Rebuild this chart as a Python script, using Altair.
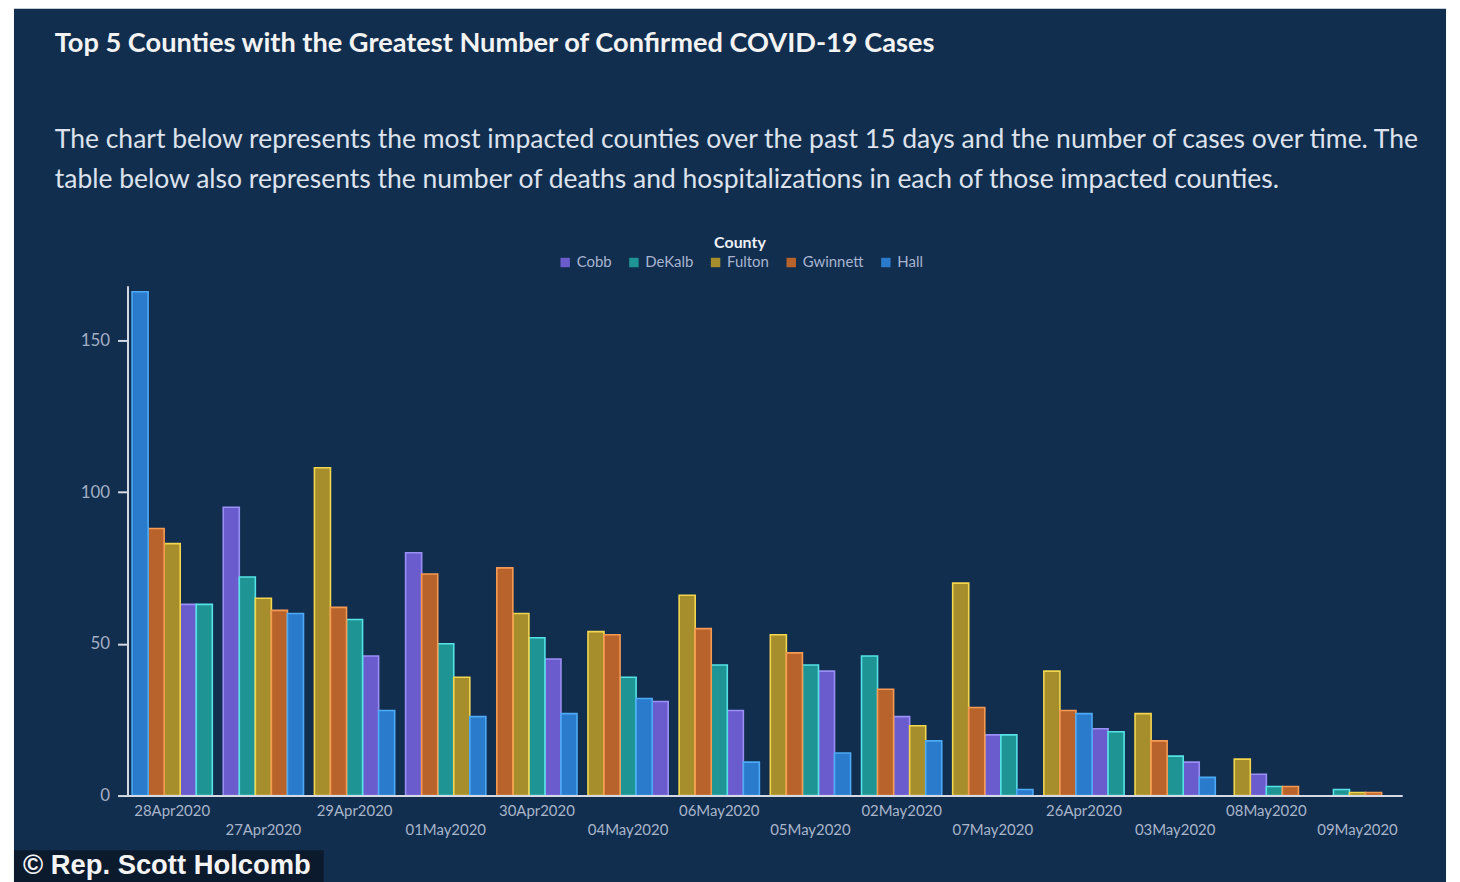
import altair as alt
import pandas as pd

dates = ["28Apr2020", "27Apr2020", "29Apr2020", "01May2020", "30Apr2020", "04May2020",
         "06May2020", "05May2020", "02May2020", "07May2020", "26Apr2020", "03May2020",
         "08May2020", "09May2020"]
counties = ["Cobb", "DeKalb", "Fulton", "Gwinnett", "Hall"]
cobb = [63, 95, 46, 80, 45, 31, 28, 41, 26, 20, 22, 11, 7, 0]
dekalb = [63, 72, 58, 50, 52, 39, 43, 43, 46, 20, 21, 13, 3, 2]
fulton = [83, 65, 108, 39, 60, 54, 66, 53, 23, 70, 41, 27, 12, 1]
gwinnett = [88, 61, 62, 73, 75, 53, 55, 47, 35, 29, 28, 18, 3, 1]
hall = [166, 60, 28, 26, 27, 32, 11, 14, 18, 2, 27, 6, 0, 0]

fill_colors = ["#6a5ccc", "#1f9494", "#a68e2c", "#b8632b", "#2b7bcc"]
stroke_colors = ["#9a8ff5", "#55e3e6", "#f3d64e", "#f59a52", "#4daaf5"]

series = {"Cobb": cobb, "DeKalb": dekalb, "Fulton": fulton, "Gwinnett": gwinnett, "Hall": hall}
rows = []
for c in counties:
    for d, v in zip(dates, series[c]):
        rows.append({"Date": d, "County": c, "Cases": v})
df = pd.DataFrame(rows)

lower_row = dates[1::2]
lower_js = "[" + ",".join("'" + d + "'" for d in lower_row) + "]"

title_text = "Top 5 Counties with the Greatest Number of Confirmed COVID-19 Cases"
sub_lines = [
    "The chart below represents the most impacted counties over the past 15 days and the number of cases over time. The",
    "table below also represents the number of deaths and hospitalizations in each of those impacted counties.",
]

W, H = 1280, 512
X_PAD_IN, X_PAD_OUT = 0.12, 0.05
x_step = W / (len(dates) - X_PAD_IN + 2 * X_PAD_OUT)
x_band = x_step * (1 - X_PAD_IN)
half_slot = x_band / 10.0
# bars are two half-slots wide; Vega-Lite centres such bars on the date band, so the
# offset scale's pixel range is moved by half a date band to start them at the half-slot
off_r0 = x_band / 2 - half_slot / 2
off_range = [off_r0, off_r0 + x_band]

panel_df = pd.DataFrame({"p": [1]})
panel = alt.Chart(panel_df).mark_rect(color="#112e4f").encode(
    x=alt.value(-114), x2=alt.value(1324), y=alt.value(-278), y2=alt.value(600)
)

bars = alt.Chart(df).transform_filter(
    alt.datum.Cases > 0
).transform_window(
    rank="row_number()",
    groupby=["Date"],
    sort=[alt.SortField("Cases", order="descending"), alt.SortField("County", order="ascending")],
).transform_joinaggregate(
    n="count()", groupby=["Date"]
).transform_calculate(
    slot="2 * (datum.rank - 1) + (5 - datum.n)"
).mark_bar(strokeWidth=1.6, width=alt.RelativeBandSize(2)).encode(
    x=alt.X("Date:N", sort=dates, title=None,
            scale=alt.Scale(paddingInner=X_PAD_IN, paddingOuter=X_PAD_OUT),
            axis=alt.Axis(labelAngle=0, labelOverlap=False, ticks=False, zindex=1,
                          labelExpr=f"indexof({lower_js}, datum.label) >= 0 ? ['', datum.label] : datum.label",
                          labelLineHeight=19, labelPadding=8, labelBaseline="top",
                          labelFont="Lato", labelFontSize=15, labelColor="#a9b5c9",
                          domainColor="#d5d9e3", domainWidth=2)),
    xOffset=alt.XOffset("slot:O", scale=alt.Scale(domain=list(range(9)), paddingInner=0,
                                                  paddingOuter=0.5, range=off_range)),
    y=alt.Y("Cases:Q", title=None,
            scale=alt.Scale(domain=[0, 168], nice=False),
            axis=alt.Axis(values=[0, 50, 100, 150], grid=False, zindex=1,
                          labelFont="Lato", labelFontSize=17, labelColor="#a3afc4",
                          tickColor="#d5d9e3", tickSize=10, tickWidth=2, labelPadding=8,
                          domainColor="#d5d9e3", domainWidth=2)),
    fill=alt.Fill("County:N", scale=alt.Scale(domain=counties, range=fill_colors),
                  legend=alt.Legend(title="County", orient="none", legendX=432, legendY=-51,
                                    direction="horizontal", titleAnchor="middle",
                                    titleFont="Lato", titleFontSize=16, titleFontWeight="bold",
                                    titleColor="#eef0f5", labelFont="Lato", labelFontSize=15,
                                    labelColor="#a9b5cf", symbolType="square", symbolSize=90,
                                    symbolStrokeWidth=0, columnPadding=14, titlePadding=4)),
    stroke=alt.Stroke("County:N", scale=alt.Scale(domain=counties, range=stroke_colors), legend=None),
)

credit_df = pd.DataFrame({"t": ["© Rep. Scott Holcomb"]})
credit_box = alt.Chart(credit_df).mark_rect(color="#0c1a2e").encode(
    x=alt.value(-114), x2=alt.value(197), y=alt.value(567), y2=alt.value(600)
)
credit_text = alt.Chart(credit_df).mark_text(
    align="left", baseline="middle", font="Liberation Sans", fontSize=27.5, fontWeight="bold", color="#f4f4f4"
).encode(text="t:N", x=alt.value(-105), y=alt.value(583))

chart = alt.layer(panel, bars, credit_box, credit_text).properties(
    width=W, height=H,
    title=alt.TitleParams(
        text=title_text, subtitle=sub_lines, anchor="start", frame="group",
        font="Lato", fontSize=27.3, fontWeight="bold", color="#f3f3f3",
        subtitleFont="Lato", subtitleFontSize=26.6, subtitleColor="#dde2ec",
        subtitleLineHeight=41, subtitlePadding=70, offset=-186, dx=-73,
    ),
    autosize=alt.AutoSizeParams(type="none"),
    padding={"left": 120, "top": 277, "right": 50, "bottom": 85},
    background="white",
).configure_view(stroke=None)

chart.save("out.html", embed_options={"renderer": "svg", "actions": False})
